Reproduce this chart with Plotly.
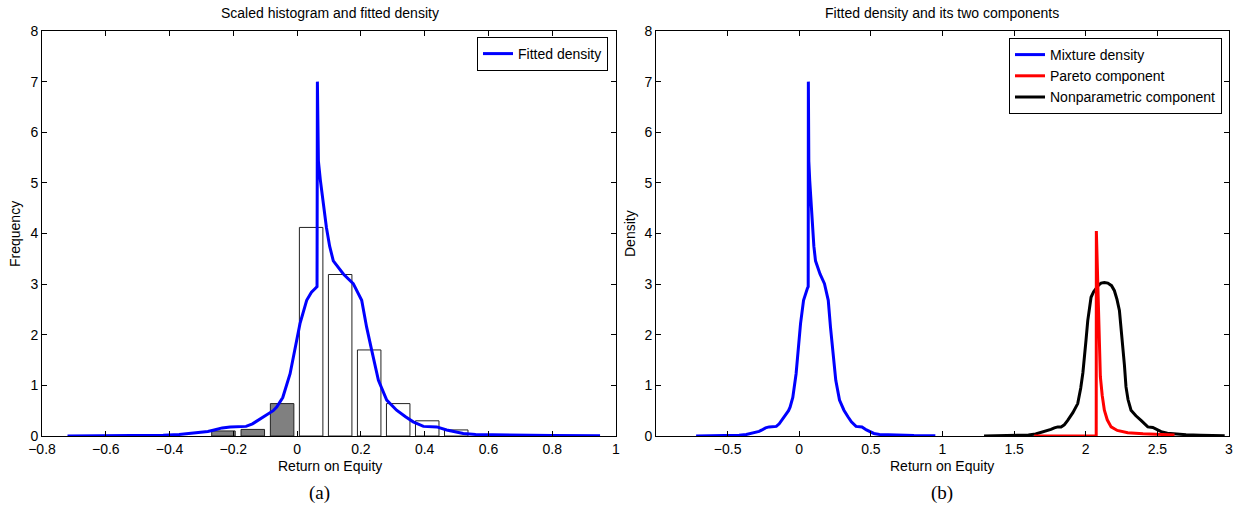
import plotly.graph_objects as go

# ---------------- data ----------------
hist_neg_x = [-0.231, -0.139, -0.047]
hist_neg_y = [0.10, 0.13, 0.64]
hist_pos_x = [0.044, 0.135, 0.226, 0.317, 0.408, 0.499]
hist_pos_y = [4.12, 3.19, 1.70, 0.64, 0.30, 0.12]

mix_x = [-0.72, -0.60, -0.50, -0.42, -0.37, -0.32, -0.28, -0.26, -0.235, -0.21, -0.185,
         -0.16, -0.14, -0.116, -0.095, -0.075, -0.064, -0.045, -0.022, -0.001, 0.009,
         0.030, 0.045, 0.056, 0.0625, 0.0636, 0.0649, 0.0668, 0.0730, 0.0784, 0.0850,
         0.0919, 0.1020, 0.1135, 0.145, 0.176, 0.2025, 0.218, 0.234, 0.255, 0.281, 0.312,
         0.340, 0.364, 0.396, 0.418, 0.438, 0.469, 0.495, 0.521, 0.56, 0.626, 0.70, 0.80,
         0.95]
mix_y = [0.0, 0.003, 0.008, 0.015, 0.03, 0.06, 0.09, 0.12, 0.16, 0.18, 0.18,
         0.19, 0.24, 0.33, 0.42, 0.50, 0.57, 0.76, 1.23, 1.89, 2.22,
         2.68, 2.84, 2.91, 2.95, 7.0, 6.09, 5.43, 5.05, 4.78, 4.43,
         4.12, 3.75, 3.46, 3.20, 3.01, 2.68, 2.15, 1.69, 1.10, 0.71, 0.51,
         0.38, 0.28, 0.19, 0.18, 0.18, 0.12, 0.08, 0.05, 0.03, 0.02, 0.012, 0.008,
         0.004]

pareto_x = [1.64, 2.073, 2.074, 2.080, 2.088, 2.095, 2.102, 2.115, 2.130, 2.150, 2.177,
            2.22, 2.293, 2.40, 2.50, 2.62]
pareto_y = [0.0, 0.0, 4.05, 3.40, 2.48, 1.70, 1.17, 0.80, 0.51, 0.32, 0.18,
            0.11, 0.065, 0.045, 0.03, 0.02]

nonpar_x = [1.29, 1.40, 1.50, 1.60, 1.65, 1.685, 1.73, 1.757, 1.781, 1.805, 1.828, 1.85,
            1.874, 1.91, 1.944, 1.965, 1.98, 1.990, 2.002, 2.014, 2.025, 2.037, 2.055,
            2.072, 2.09, 2.107, 2.13, 2.154, 2.18, 2.200, 2.218, 2.235, 2.247, 2.258,
            2.27, 2.281, 2.295, 2.316, 2.35, 2.386, 2.41, 2.433, 2.468, 2.50, 2.526,
            2.57, 2.619, 2.70, 2.80, 2.97]
nonpar_y = [0.0, 0.005, 0.01, 0.02, 0.04, 0.065, 0.10, 0.13, 0.16, 0.18, 0.18, 0.22,
            0.31, 0.46, 0.64, 0.95, 1.25, 1.50, 1.90, 2.28, 2.55, 2.74, 2.85,
            2.92, 2.98, 3.02, 3.03, 3.02, 2.97, 2.87, 2.70, 2.48, 2.15, 1.82,
            1.40, 0.97, 0.72, 0.51, 0.40, 0.31, 0.24, 0.18, 0.17, 0.12, 0.085,
            0.055, 0.04, 0.025, 0.015, 0.005]

left_xticks = [-0.8, -0.6, -0.4, -0.2, 0, 0.2, 0.4, 0.6, 0.8, 1]
right_xticks = [-0.5, 0, 0.5, 1, 1.5, 2, 2.5, 3]
yticks = [0, 1, 2, 3, 4, 5, 6, 7, 8]

# ---------------- figure ----------------
W, H = 1239, 508
FONT = "Liberation Sans, Arial, sans-serif"

fig = go.Figure()

fig.add_trace(go.Bar(x=hist_neg_x, y=hist_neg_y, width=0.0737,
                     marker=dict(color="rgb(128,128,128)", line=dict(color="#222", width=1)),
                     showlegend=False, xaxis="x", yaxis="y"))
fig.add_trace(go.Bar(x=hist_pos_x, y=hist_pos_y, width=0.0737,
                     marker=dict(color="white", line=dict(color="#222", width=1)),
                     showlegend=False, xaxis="x", yaxis="y"))
fig.add_trace(go.Scatter(x=mix_x, y=mix_y, mode="lines", name="Fitted density",
                         line=dict(color="#0000ff", width=3), xaxis="x", yaxis="y",
                         legend="legend"))

fig.add_trace(go.Scatter(x=mix_x, y=mix_y, mode="lines", name="Mixture density",
                         line=dict(color="#0000ff", width=3), xaxis="x2", yaxis="y2",
                         legend="legend2", legendrank=1))
fig.add_trace(go.Scatter(x=nonpar_x, y=nonpar_y, mode="lines", name="Nonparametric component",
                         line=dict(color="black", width=3), xaxis="x2", yaxis="y2",
                         legend="legend2", legendrank=3))
fig.add_trace(go.Scatter(x=pareto_x, y=pareto_y, mode="lines", name="Pareto component",
                         line=dict(color="#ff0000", width=3), xaxis="x2", yaxis="y2",
                         legend="legend2", legendrank=2))

def px_x(p):
    return p / W

def px_y(p):
    return 1 - p / H

axis_common = dict(showline=True, linecolor="black", linewidth=1, mirror="ticks",
                   ticks="inside", ticklen=5, tickcolor="black", showgrid=False,
                   zeroline=False, automargin=False,
                   tickfont=dict(family=FONT, size=14, color="black"))

fig.update_layout(
    template="none",
    width=W, height=H,
    margin=dict(l=0, r=0, t=0, b=0, pad=0, autoexpand=False),
    paper_bgcolor="white", plot_bgcolor="white",
    barmode="overlay",
    font=dict(family=FONT, size=14, color="black"),
    xaxis=dict(domain=[px_x(42), px_x(616)], range=[-0.8, 1], tickvals=left_xticks,
               anchor="y", **axis_common),
    yaxis=dict(domain=[px_y(436), px_y(31)], range=[0, 8], tickvals=yticks,
               anchor="x", **axis_common),
    xaxis2=dict(domain=[px_x(656), px_x(1229)], range=[-1, 3], tickvals=right_xticks,
                anchor="y2", **axis_common),
    yaxis2=dict(domain=[px_y(436), px_y(31)], range=[0, 8], tickvals=yticks,
                anchor="x2", **axis_common),
    legend=dict(x=px_x(608), y=px_y(37), xanchor="right", yanchor="top",
                bordercolor="black", borderwidth=1, bgcolor="white",
                font=dict(family=FONT, size=14), tracegroupgap=0),
    legend2=dict(x=px_x(1222), y=px_y(38), xanchor="right", yanchor="top",
                 bordercolor="black", borderwidth=1, bgcolor="white",
                 font=dict(family=FONT, size=14), tracegroupgap=0,
                 traceorder="normal"),
    showlegend=True,
)

ann = [
    dict(text="Scaled histogram and fitted density", x=px_x(330), y=px_y(13)),
    dict(text="Fitted density and its two components", x=px_x(942), y=px_y(13)),
    dict(text="Return on Equity", x=px_x(330), y=px_y(466)),
    dict(text="Return on Equity", x=px_x(942), y=px_y(466)),
]
annotations = []
for a in ann:
    annotations.append(dict(text=a["text"], x=a["x"], y=a["y"], xref="paper", yref="paper",
                            xanchor="center", yanchor="middle", showarrow=False,
                            font=dict(family=FONT, size=14, color="black")))
annotations.append(dict(text="Frequency", x=px_x(15), y=px_y(234), xref="paper", yref="paper",
                        xanchor="center", yanchor="middle", showarrow=False, textangle=-90,
                        font=dict(family=FONT, size=14, color="black")))
annotations.append(dict(text="Density", x=px_x(630), y=px_y(234), xref="paper", yref="paper",
                        xanchor="center", yanchor="middle", showarrow=False, textangle=-90,
                        font=dict(family=FONT, size=14, color="black")))
annotations.append(dict(text="(a)", x=px_x(319), y=px_y(493), xref="paper", yref="paper",
                        xanchor="center", yanchor="middle", showarrow=False,
                        font=dict(family="Liberation Serif, DejaVu Serif, serif", size=19, color="black")))
annotations.append(dict(text="(b)", x=px_x(942), y=px_y(493), xref="paper", yref="paper",
                        xanchor="center", yanchor="middle", showarrow=False,
                        font=dict(family="Liberation Serif, DejaVu Serif, serif", size=19, color="black")))
fig.update_layout(annotations=annotations)

fig.write_html("out.html", config={"displayModeBar": False},
               post_script="document.body.style.margin='0px';document.body.style.overflow='hidden';")
